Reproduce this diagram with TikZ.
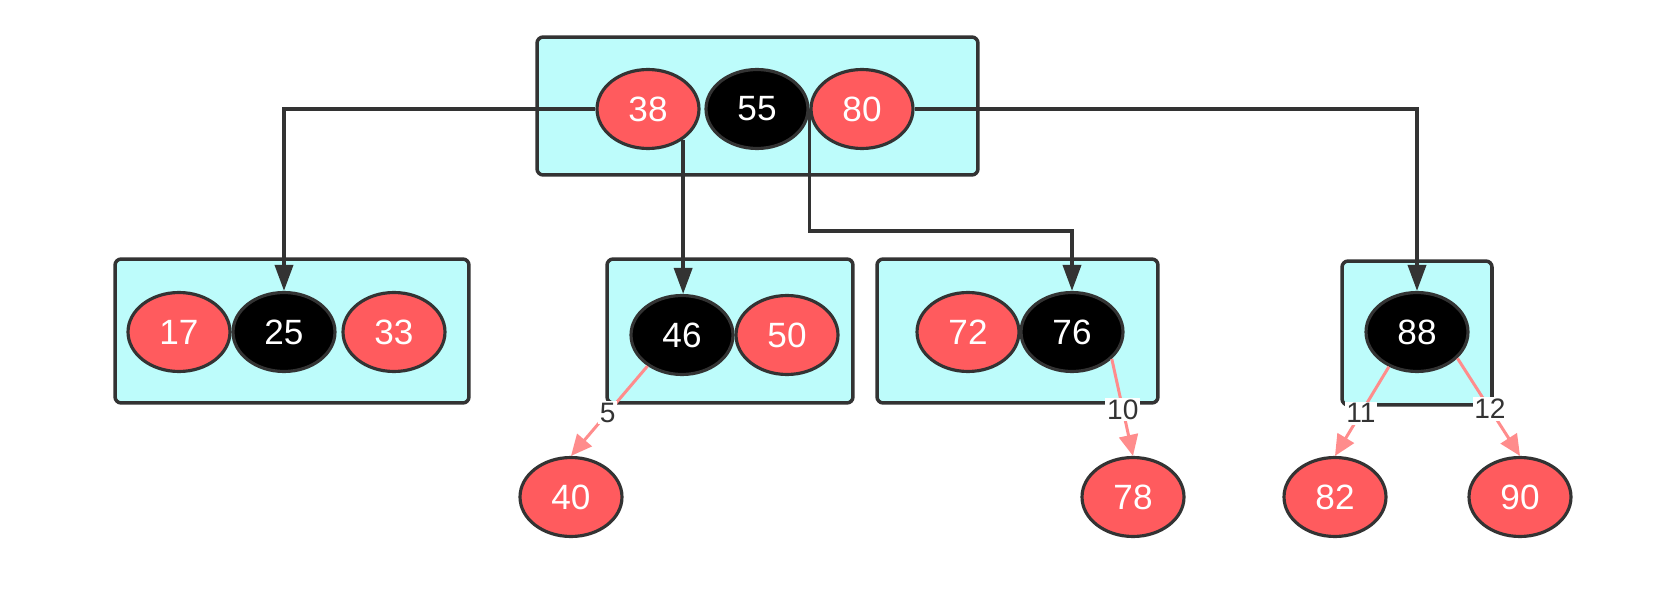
\documentclass[tikz,border=0pt]{standalone}
\usepackage{fontspec}
\setmainfont{Liberation Sans}
\usetikzlibrary{arrows.meta,shapes.geometric}
\definecolor{rbRed}{HTML}{FF5B5E}
\definecolor{rbCyan}{HTML}{BDFCFB}
\definecolor{rbInk}{HTML}{333333}
\definecolor{rbPink}{HTML}{FF8C8C}

\begin{document}
\begin{tikzpicture}[x=0.02cm, y=-0.02cm,
  grp/.style={draw=rbInk, line width=2pt, rounded corners=3.5pt, fill=rbCyan, inner sep=0pt},
  key/.style={ellipse, draw=rbInk, line width=1.8pt, inner sep=0pt, minimum width=2.04cm, minimum height=1.58cm, text=white, font=\fontsize{20}{24}\selectfont},
  rk/.style={key, fill=rbRed},
  bk/.style={key, fill=black},
  arr/.style={-{Triangle[length=5.2mm,width=3.6mm]}, line width=2.1pt, rbInk},
  rarr/.style={-{Triangle[length=4.2mm,width=3.8mm]}, line width=1.7pt, rbPink},
  lbl/.style={fill=white, text=rbInk, inner sep=1pt, font=\fontsize{16}{19}\selectfont}]
\useasboundingbox (0,0) rectangle (1674,598);

% ── 2-3-4 nodes (cyan groups)
\node[grp, minimum width=8.82cm, minimum height=2.76cm] (g0) at (757.5,106) {};
\node[grp, minimum width=7.08cm, minimum height=2.88cm] (g1) at (292,331) {};
\node[grp, minimum width=4.92cm, minimum height=2.88cm] (g2) at (730,331) {};
\node[grp, minimum width=5.62cm, minimum height=2.88cm] (g3) at (1017.5,331) {};
\node[grp, minimum width=3.00cm, minimum height=2.88cm] (g4) at (1417,333) {};

% ── keys
\node[rk] (n38) at (648,109) {38};
\node[bk] (n55) at (757,109) {55};
\node[rk] (n80) at (862,109) {80};
\node[rk] (n17) at (179,332) {17};
\node[bk] (n25) at (284,332) {25};
\node[rk] (n33) at (394,332) {33};
\node[bk] (n46) at (682,335) {46};
\node[rk] (n50) at (787,335) {50};
\node[rk] (n72) at (968,332) {72};
\node[bk] (n76) at (1072,332) {76};
\node[bk] (n88) at (1417,332) {88};
\node[rk] (n40) at (571,497) {40};
\node[rk] (n78) at (1133,497) {78};
\node[rk] (n82) at (1335,497) {82};
\node[rk] (n90) at (1520,497) {90};

% ── child pointers of the root group
\draw[arr] (n38.west) -| (n25.north);
\draw[arr] (n38.-41) -- (n38.-41 |- n46.north);
\draw[arr] (n55.east) -- ++(0,122) -| (n76.north);
\draw[arr] (n80.east) -| (n88.north);

% ── red-black view: red children hanging below
\foreach \a/\b/\t in {n46.-138/n40.north/5,n76.-34/n78.north/10,n88.-129/n82.north/11,n88.-33/n90.north/12}{
  \draw[rarr] (\a) -- node[lbl, pos=0.52] (l\t) {\t} (\b);}
\end{tikzpicture}
\end{document}
